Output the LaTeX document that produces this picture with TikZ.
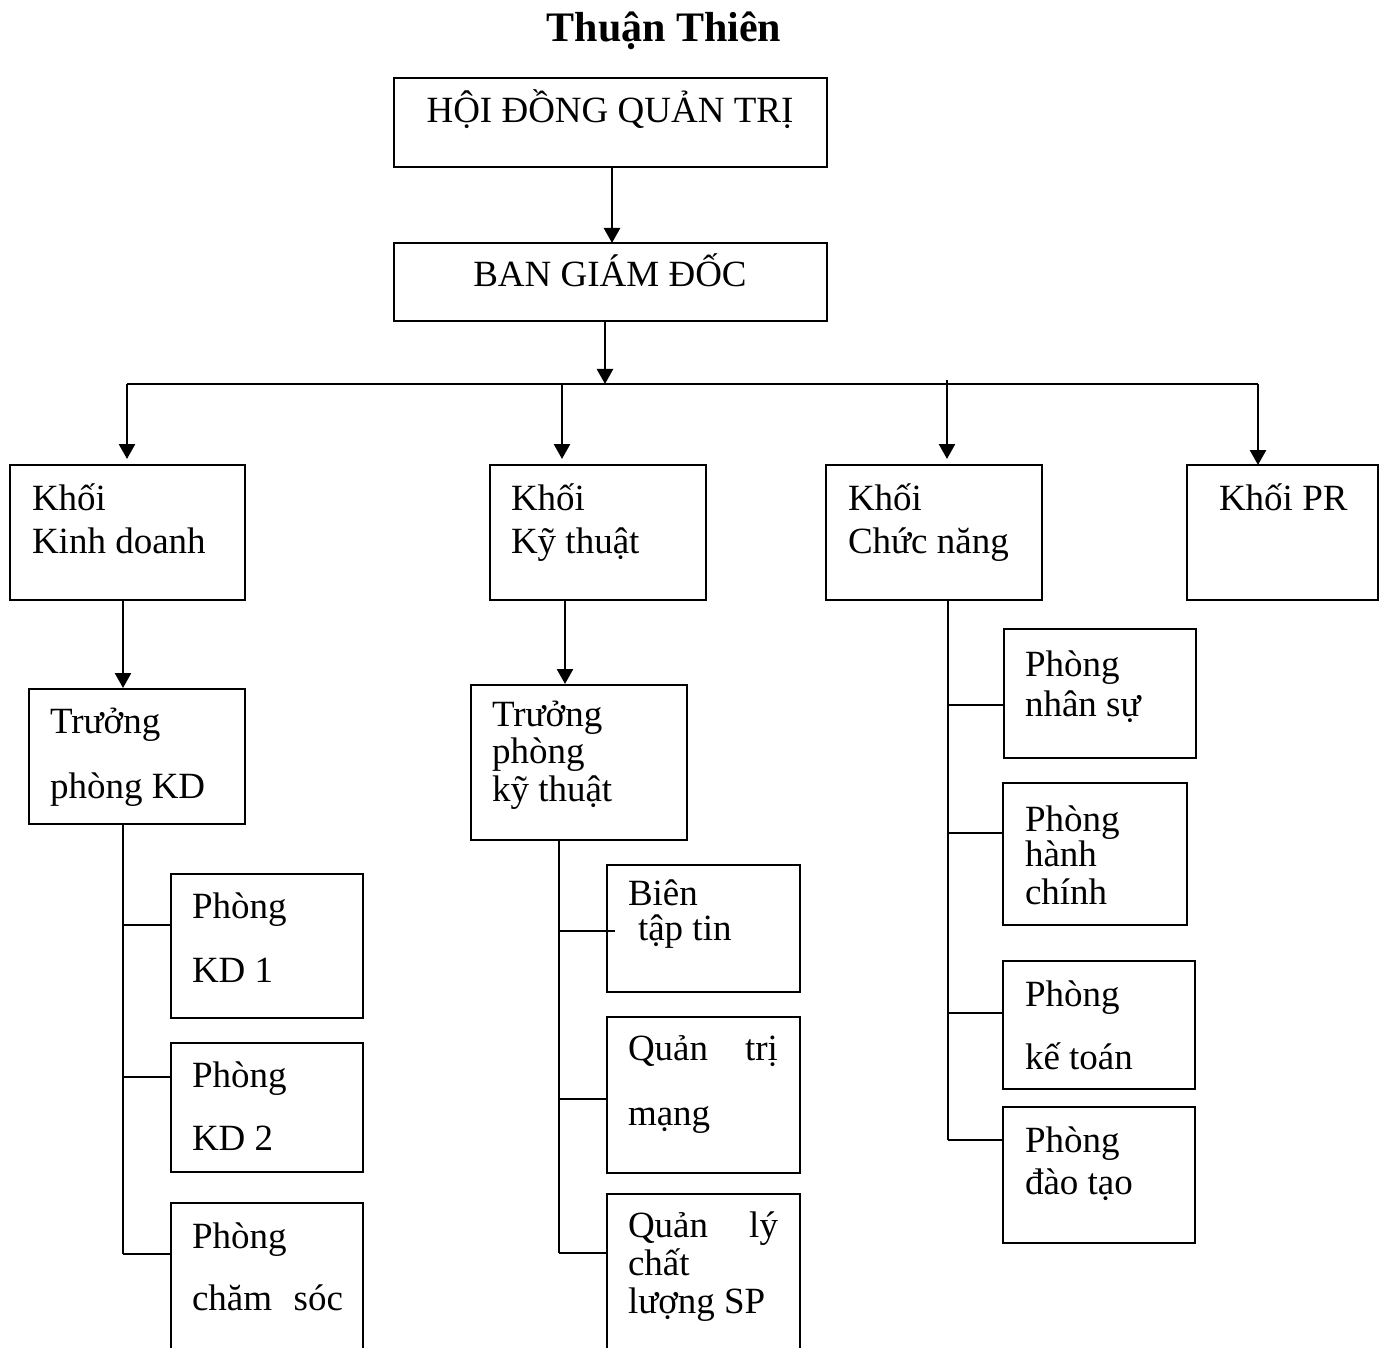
\documentclass[tikz,border=0pt]{standalone}
\usepackage{fontspec}
\setmainfont{Liberation Serif}
\usetikzlibrary{arrows.meta}

\newcommand{\orgbody}{\fontsize{37}{44}\selectfont}
\newcommand{\orgtitle}{\fontsize{42}{50}\selectfont\bfseries}

\begin{document}
\begin{tikzpicture}[
  x=1pt, y=-1pt,
  box/.style={draw, line width=2.1pt, inner sep=0pt, outer sep=0pt, anchor=north west},
  txt/.style={inner sep=0pt, outer sep=0pt, anchor=base west, font=\orgbody},
  link/.style={line width=2.1pt},
  arr/.style={line width=2.6pt, -{Triangle[length=15pt,width=16pt]}},
]
\useasboundingbox (0,0) rectangle (1385,1348);
\clip (0,0) rectangle (1385,1348);

% title
\node[inner sep=0pt, anchor=base, font=\orgtitle] (title) at (664,42) {Thuận Thiên};

% boxes
\node[box, minimum width=433, minimum height=89]  (hdqt) at (394,78) {};
\node[box, minimum width=433, minimum height=78]  (bgd)  at (394,243) {};
\node[box, minimum width=235, minimum height=135] (kd)   at (10,465) {};
\node[box, minimum width=216, minimum height=135] (kt)   at (490,465) {};
\node[box, minimum width=216, minimum height=135] (cn)   at (826,465) {};
\node[box, minimum width=191, minimum height=135] (pr)   at (1187,465) {};
\node[box, minimum width=216, minimum height=135] (tpkd) at (29,689) {};
\node[box, minimum width=216, minimum height=155] (tpkt) at (471,685) {};
\node[box, minimum width=192, minimum height=144] (kd1)  at (171,874) {};
\node[box, minimum width=192, minimum height=129] (kd2)  at (171,1043) {};
\node[box, minimum width=192, minimum height=180] (cs)   at (171,1203) {};
\node[box, minimum width=193, minimum height=127] (bt)   at (607,865) {};
\node[box, minimum width=193, minimum height=156] (qtm)  at (607,1017) {};
\node[box, minimum width=193, minimum height=190] (qlcl) at (607,1194) {};
\node[box, minimum width=192, minimum height=129] (ns)   at (1004,629) {};
\node[box, minimum width=184, minimum height=142] (hc)   at (1003,783) {};
\node[box, minimum width=192, minimum height=128] (ktoan) at (1003,961) {};
\node[box, minimum width=192, minimum height=136] (dt)   at (1003,1107) {};

% texts
\node[inner sep=0pt, anchor=base, font=\orgbody] (hdqt-t) at (610,123) {HỘI ĐỒNG QUẢN TRỊ};
\node[inner sep=0pt, anchor=base, font=\orgbody] (bgd-t) at (610,287) {BAN GIÁM ĐỐC};

\node[txt] (kd-a) at (32,510) {Khối};
\node[txt] (kd-b) at (32,553) {Kinh doanh};
\node[txt] (kt-a) at (511,510) {Khối};
\node[txt] (kt-b) at (511,553) {Kỹ thuật};
\node[txt] (cn-a) at (848,510) {Khối};
\node[txt] (cn-b) at (848,553) {Chức năng};
\node[txt] (pr-a) at (1219,510) {Khối PR};

\node[txt] (tpkd-a) at (50,733) {Trưởng};
\node[txt] (tpkd-b) at (50,798) {phòng KD};
\node[txt] (tpkt-a) at (492,726) {Trưởng};
\node[txt] (tpkt-b) at (492,763) {phòng};
\node[txt] (tpkt-c) at (492,801) {kỹ thuật};

\node[txt] (kd1-a) at (192,918) {Phòng};
\node[txt] (kd1-b) at (192,982) {KD 1};
\node[txt] (kd2-a) at (192,1087) {Phòng};
\node[txt] (kd2-b) at (192,1150) {KD 2};
\node[txt] (cs-a) at (192,1248) {Phòng};
\node[txt] (cs-b) at (192,1310) {\hbox to 151pt{chăm\hfill sóc}};

\node[txt] (bt-a) at (628,905) {Biên};
\node[txt] (bt-b) at (638,940) {tập tin};
\node[txt] (qtm-a) at (628,1060) {\hbox to 150pt{Quản\hfill trị}};
\node[txt] (qtm-b) at (628,1125) {mạng};
\node[txt] (qlcl-a) at (628,1237) {\hbox to 150pt{Quản\hfill lý}};
\node[txt] (qlcl-b) at (628,1275) {chất};
\node[txt] (qlcl-c) at (628,1313) {lượng SP};

\node[txt] (ns-a) at (1025,676) {Phòng};
\node[txt] (ns-b) at (1025,716) {nhân sự};
\node[txt] (hc-a) at (1025,831) {Phòng};
\node[txt] (hc-b) at (1025,866) {hành};
\node[txt] (hc-c) at (1025,904) {chính};
\node[txt] (ktoan-a) at (1025,1006) {Phòng};
\node[txt] (ktoan-b) at (1025,1069) {kế toán};
\node[txt] (dt-a) at (1025,1152) {Phòng};
\node[txt] (dt-b) at (1025,1194) {đào tạo};

% top of the chart
\coordinate (x-hd) at (612,0);
\coordinate (x-bgd) at (605,0);
\coordinate (busL) at (127,384);
\coordinate (busR) at (1258,384);
\coordinate (d-kt) at (562,384);
\coordinate (d-cn) at (947,380);
\draw[arr] (hdqt.south -| x-hd) -- (bgd.north -| x-hd);
\draw[arr] (bgd.south -| x-bgd) -- (busL -| x-bgd);
\draw[link] (busL) -- (busR);
\draw[arr, shorten >=6pt] (busL) -- (kd.north -| busL);
\draw[arr, shorten >=6pt] (d-kt) -- (kt.north -| d-kt);
\draw[arr, shorten >=6pt] (d-cn) -- (cn.north -| d-cn);
\draw[arr] (busR) -- (pr.north -| busR);

% Khối Kinh doanh branch
\coordinate (v-kd) at (123,0);
\coordinate (b-kd1) at (123,925);
\coordinate (b-kd2) at (123,1077);
\coordinate (b-cs) at (123,1254);
\draw[arr, shorten >=1pt] (kd.south -| v-kd) -- (tpkd.north -| v-kd);
\draw[link] (tpkd.south -| v-kd) -- (b-cs);
\draw[link] (b-kd1) -- (b-kd1 -| kd1.west);
\draw[link] (b-kd2) -- (b-kd2 -| kd2.west);
\draw[link] (b-cs) -- (b-cs -| cs.west);

% Khối Kỹ thuật branch
\coordinate (v-kt) at (565,0);
\coordinate (b-bt) at (559,931);
\coordinate (e-bt) at (615,931);
\coordinate (b-qtm) at (559,1099);
\coordinate (b-ql) at (559,1253);
\draw[arr, shorten >=1pt] (kt.south -| v-kt) -- (tpkt.north -| v-kt);
\draw[link] (tpkt.south -| b-bt) -- (b-ql);
\draw[link] (b-bt) -- (e-bt);
\draw[link] (b-qtm) -- (b-qtm -| qtm.west);
\draw[link] (b-ql) -- (b-ql -| qlcl.west);

% Khối Chức năng branch
\coordinate (b-ns) at (948,705);
\coordinate (b-hc) at (948,833);
\coordinate (b-ktoan) at (948,1013);
\coordinate (b-dt) at (948,1140);
\draw[link] (cn.south -| b-ns) -- (b-dt);
\draw[link] (b-ns) -- (b-ns -| ns.west);
\draw[link] (b-hc) -- (b-hc -| hc.west);
\draw[link] (b-ktoan) -- (b-ktoan -| ktoan.west);
\draw[link] (b-dt) -- (b-dt -| dt.west);
\end{tikzpicture}
\end{document}
